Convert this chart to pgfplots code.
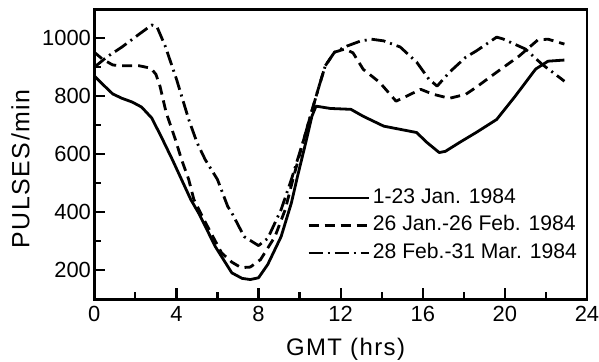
\documentclass[border=0pt]{standalone}
\usepackage{fontspec}
\setmainfont{Liberation Sans}
\newfontfamily\labelfont[LetterSpace=6]{Liberation Sans}
\usepackage{pgfplots}
\pgfplotsset{compat=1.18}
\begin{document}
\begin{tikzpicture}
\begin{axis}[
  scale only axis, width=246.4bp, height=145bp,
  xmin=0, xmax=24, ymin=100, ymax=1100,
  xtick={0,4,...,24}, ytick={200,400,...,1000},
  minor x tick num=1, minor y tick num=1,
  tick align=inside, xtick pos=bottom, ytick pos=left,
  major tick length=5.5bp, minor tick length=3.5bp,
  every tick/.style={black, line width=1.1bp},
  axis line style={line width=1.4bp},
  /pgf/number format/assume math mode=true,
  /pgf/number format/1000 sep={},
  tick label style={font=\fontsize{11}{13}\selectfont},
  yticklabel style={inner sep=1.5bp},
  xlabel={GMT (hrs)}, ylabel={PULSES/min},
  xlabel style={at={(axis description cs:0.51,-0.172)}, anchor=center, font=\labelfont\fontsize{12}{14}\selectfont},
  ylabel style={at={(axis description cs:-0.150,0.45)}, anchor=center, font=\labelfont\fontsize{12.5}{14}\selectfont},
  legend style={draw=none, fill=none, at={(0.432,0.394)}, anchor=north west, inner sep=0pt, outer sep=0pt, row sep=0.75bp, font=\fontsize{10.6}{12}\selectfont, nodes={inner sep=1.5bp, text height=7.6bp, text depth=2.4bp}},
  legend cell align=left,
  legend image code/.code={\draw[#1] (0bp,0bp) -- (30bp,0bp);},
]
\addplot[black, line width=1.4bp, line join=round] coordinates {
(0,870) (0.4,842) (0.9,808) (1.35,793) (1.85,780) (2.3,763) (2.8,725) (3.3,655) (3.8,582) (4.25,513) (4.7,444) (5.1,395) (5.9,281) (6.7,191) (7.2,172) (7.6,168) (8.0,174) (8.45,220) (9.1,316) (9.6,432) (9.9,524) (10.3,640) (10.6,731) (10.8,766) (11.5,758) (12.5,755) (13.1,731) (14.1,697) (14.9,686) (15.7,675) (16.2,641) (16.8,606) (17.1,610) (17.8,641) (18.6,675) (19.6,720) (20.5,800) (21.5,894) (22.1,921) (22.9,925)
};
\addplot[black, line width=1.4bp, line join=round, dash pattern=on 5bp off 3bp] coordinates {
(0,952) (0.4,928) (0.9,908) (1.3,905) (2.2,905) (2.75,897) (3.0,876) (3.2,835) (3.5,744) (3.95,651) (4.25,582) (4.6,513) (4.85,444) (5.3,380) (5.6,340) (6.2,260) (6.7,228) (7.15,209) (7.6,211) (8.1,237) (8.8,316) (9.3,409) (9.7,520) (10.2,650) (10.6,750) (10.95,835) (11.25,905) (11.7,952) (12.2,963) (12.6,950) (13.1,893) (13.9,848) (14.7,783) (15.2,800) (15.9,824) (16.5,807) (17.3,793) (18.1,807) (18.6,831) (19.6,883) (20.7,939) (21.6,994) (22.1,997) (22.9,980)
};
\addplot[black, line width=1.4bp, line join=round, dash pattern=on 7bp off 2.5bp on 1bp off 2.5bp] coordinates {
(0,900) (0.6,935) (1.35,970) (2.2,1015) (2.8,1046) (3.05,1040) (3.45,974) (4.0,860) (4.6,720) (5.0,641) (5.4,582) (6.0,513) (6.5,420) (6.7,398) (7.3,316) (8.0,285) (8.45,310) (9.1,409) (9.6,513) (10.2,650) (10.6,750) (10.95,835) (11.25,905) (11.7,952) (12.3,973) (12.95,990) (13.5,997) (14.1,991) (14.9,970) (15.7,918) (16.3,859) (16.7,835) (17.3,883) (18.1,935) (18.6,956) (19.6,1004) (19.9,998) (21.0,963) (21.8,911) (22.9,852)
};
\legend{1-23 Jan. 1984, 26 Jan.-26 Feb. 1984, 28 Feb.-31 Mar. 1984}
\coordinate (ll) at (rel axis cs:0,0);
\coordinate (ur) at (rel axis cs:1,1);
\end{axis}
\pgfresetboundingbox
\path[use as bounding box] ([shift={(-47.15bp,-31.35bp)}]ll) rectangle ([shift={(6bp,4.65bp)}]ur);
\end{tikzpicture}
\end{document}
